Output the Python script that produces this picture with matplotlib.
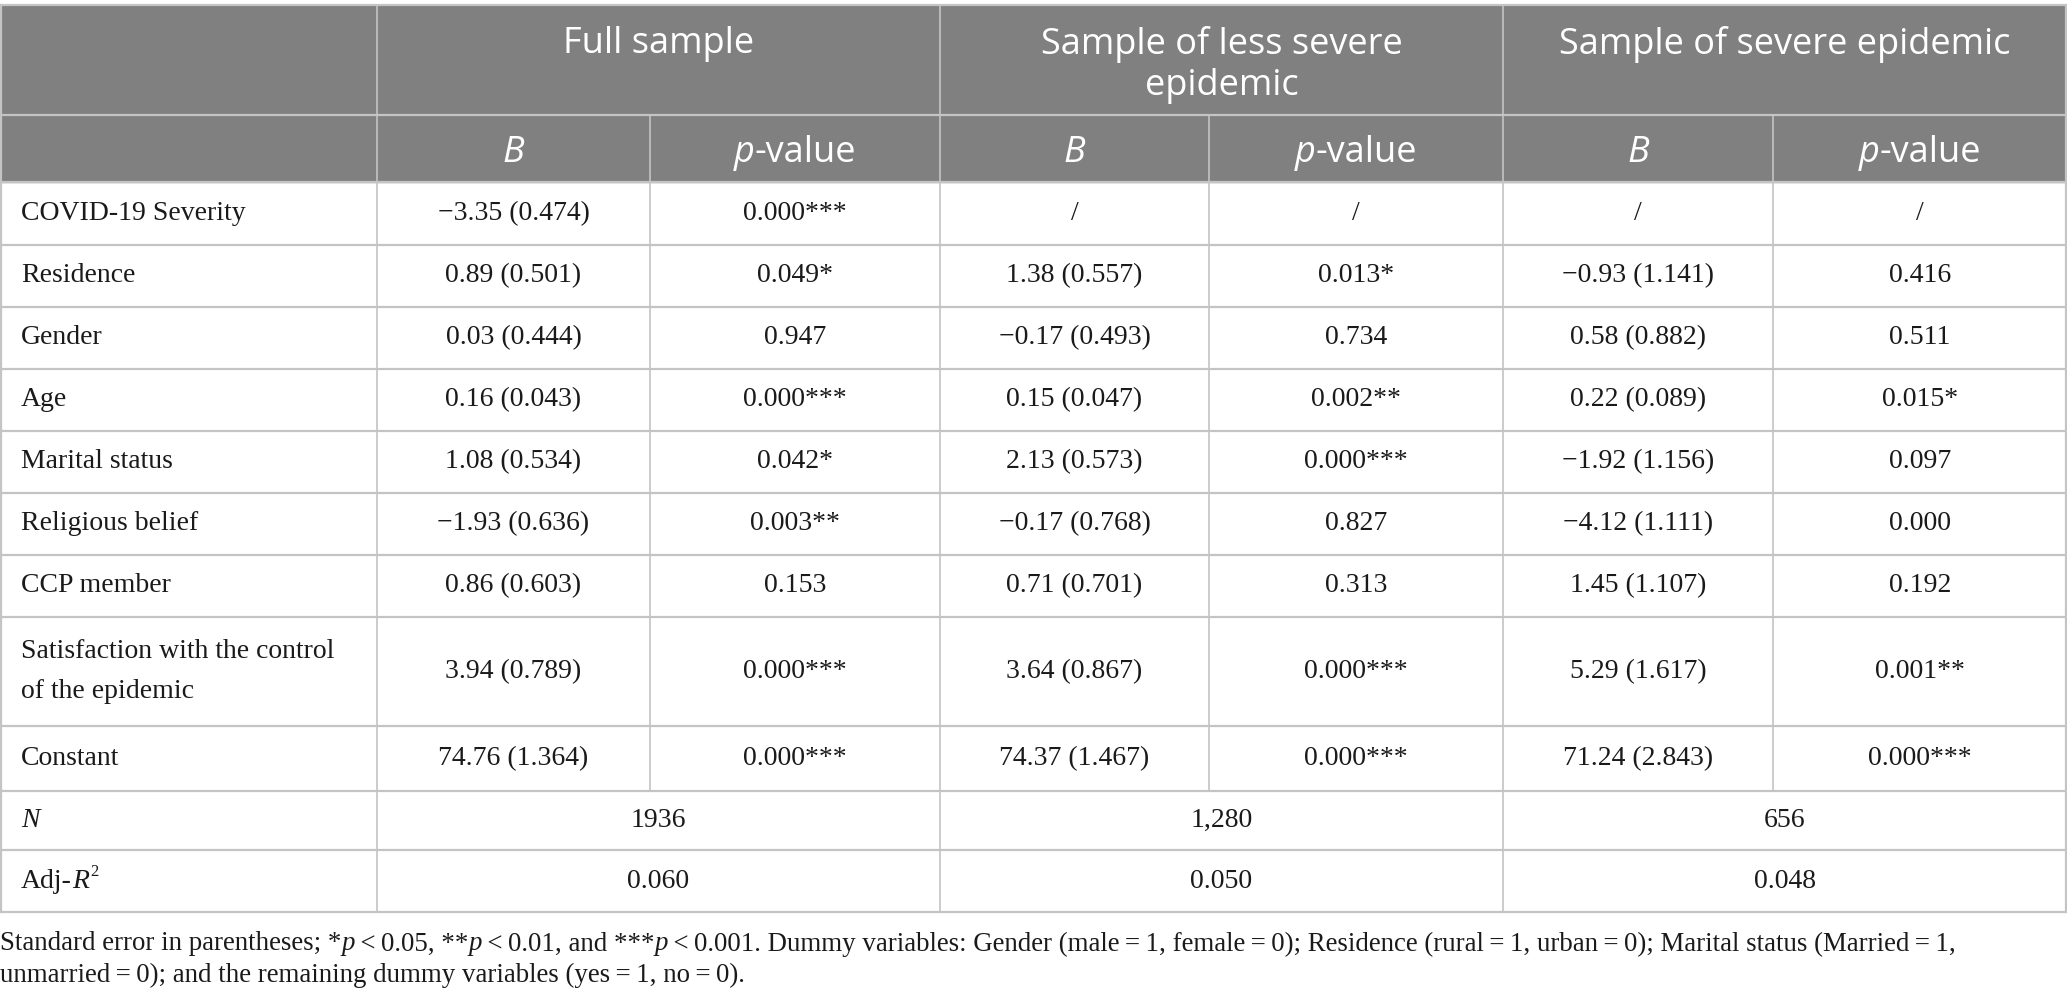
import matplotlib.pyplot as plt
from matplotlib.patches import Rectangle

# table content
groups = [["Full sample"], ["Sample of less severe", "epidemic"], ["Sample of severe epidemic"]]
row_labels = ["COVID-19 Severity", "Residence", "Gender", "Age", "Marital status",
              "Religious belief", "CCP member",
              "Satisfaction with the control\nof the epidemic", "Constant"]
full_b = ["\u22123.35 (0.474)", "0.89 (0.501)", "0.03 (0.444)", "0.16 (0.043)", "1.08 (0.534)",
          "\u22121.93 (0.636)", "0.86 (0.603)", "3.94 (0.789)", "74.76 (1.364)"]
full_p = ["0.000***", "0.049*", "0.947", "0.000***", "0.042*", "0.003**", "0.153", "0.000***", "0.000***"]
less_b = ["/", "1.38 (0.557)", "\u22120.17 (0.493)", "0.15 (0.047)", "2.13 (0.573)",
          "\u22120.17 (0.768)", "0.71 (0.701)", "3.64 (0.867)", "74.37 (1.467)"]
less_p = ["/", "0.013*", "0.734", "0.002**", "0.000***", "0.827", "0.313", "0.000***", "0.000***"]
sev_b = ["/", "\u22120.93 (1.141)", "0.58 (0.882)", "0.22 (0.089)", "\u22121.92 (1.156)",
         "\u22124.12 (1.111)", "1.45 (1.107)", "5.29 (1.617)", "71.24 (2.843)"]
sev_p = ["/", "0.416", "0.511", "0.015*", "0.097", "0.000", "0.192", "0.001**", "0.000***"]
n_values = ["1936", "1,280", "656"]
adj_r2 = ["0.060", "0.050", "0.048"]
# footnote as runs of (text, italic)
foot_1 = [("Standard error in parentheses; *", False), ("p", True), ("\u2009<\u20090.05, **", False),
          ("p", True), ("\u2009<\u20090.01, and ***", False), ("p", True),
          ("\u2009<\u20090.001. Dummy variables: Gender (male\u2009=\u20091, female\u2009=\u20090); "
           "Residence (rural\u2009=\u20091, urban\u2009=\u20090); Marital status (Married\u2009=\u20091,", False)]
foot_2 = [("unmarried\u2009=\u20090); and the remaining dummy variables (yes\u2009=\u20091, no\u2009=\u20090).", False)]

# layout in pixels
W, H = 2067, 1002
col_x = [0, 377, 650, 940, 1209, 1503, 1773, 2067]
row_y = [5, 115, 182, 245, 307, 369, 431, 493, 555, 617, 726, 791, 850, 912]
header_gray = "#7f807f"
line_col = "#c4c4c4"
text_col = "#1a1a1a"
serif = "Liberation Serif"
sans = "Open Sans"
body_fs = 20
head_fs = 26

fig = plt.figure(figsize=(W / 100, H / 100), dpi=100)
ax = fig.add_axes([0, 0, 1, 1])
ax.set_xlim(0, W)
ax.set_ylim(H, 0)
ax.axis("off")
fig.canvas.draw()
renderer = fig.canvas.get_renderer()


def draw_runs(x, y, runs, ha="left", **kw):
    # draw pieces of text one after another, some italic
    pieces = []
    total = 0
    for txt, it in runs:
        t = ax.text(0, y, txt, ha="left", va="center", style="italic" if it else "normal", **kw)
        bb = t.get_window_extent(renderer=renderer)
        pieces.append((t, bb.width))
        total += bb.width
    start = x - total / 2 if ha == "center" else x
    cur = start
    for t, w in pieces:
        t.set_x(cur)
        cur += w
    return total


# header background
ax.add_patch(Rectangle((0, row_y[0]), W, row_y[2] - row_y[0], color=header_gray, zorder=0))

# header texts
for g, lines in enumerate(groups):
    x0, x1 = col_x[1 + 2 * g], col_x[3 + 2 * g]
    for k, line in enumerate(lines):
        ax.text((x0 + x1) / 2, 44 + 42 * k, line, ha="center", va="center",
                color="white", fontsize=head_fs, family=sans)
    for k in range(2):
        xa, xb = col_x[1 + 2 * g + k], col_x[2 + 2 * g + k]
        runs = [("B", True)] if k == 0 else [("p", True), ("-value", False)]
        draw_runs((xa + xb) / 2, 153, runs, ha="center", color="white", fontsize=head_fs, family=sans)

# body rows
cols = [full_b, full_p, less_b, less_p, sev_b, sev_p]
for i, lab in enumerate(row_labels):
    yc = (row_y[2 + i] + row_y[3 + i]) / 2
    ax.text(21, yc, lab, ha="left", va="center", fontsize=body_fs, family=serif,
            linespacing=1.8, color=text_col)
    for j, col in enumerate(cols):
        ax.text((col_x[1 + j] + col_x[2 + j]) / 2, yc, col[i], ha="center", va="center",
                fontsize=body_fs, family=serif, color=text_col)

# N and Adj-R2 rows
yc = (row_y[11] + row_y[12]) / 2
draw_runs(21, yc, [("N", True)], fontsize=body_fs, family=serif, color=text_col)
for g, v in enumerate(n_values):
    ax.text((col_x[1 + 2 * g] + col_x[3 + 2 * g]) / 2, yc, v, ha="center", va="center",
            fontsize=body_fs, family=serif, color=text_col)
yc = (row_y[12] + row_y[13]) / 2
adj_w = draw_runs(21, yc, [("Adj-", False), ("R", True)], fontsize=body_fs, family=serif, color=text_col)
ax.text(21 + adj_w + 1, yc - 9, "2", ha="left", va="center", fontsize=12, family=serif, color=text_col)
for g, v in enumerate(adj_r2):
    ax.text((col_x[1 + 2 * g] + col_x[3 + 2 * g]) / 2, yc, v, ha="center", va="center",
            fontsize=body_fs, family=serif, color=text_col)

# grid lines
for y in row_y:
    ax.plot([0, W], [y, y], color=line_col, lw=1.6, zorder=2)
ax.plot([0.5, 0.5], [row_y[0], row_y[-1]], color=line_col, lw=1.6)
ax.plot([W - 1, W - 1], [row_y[0], row_y[-1]], color=line_col, lw=1.6)
for j, x in enumerate(col_x[1:-1]):
    if j % 2 == 0:
        ax.plot([x, x], [row_y[0], row_y[-1]], color=line_col, lw=1.2)
    else:
        ax.plot([x, x], [row_y[1], row_y[11]], color=line_col, lw=1.2)

# footnote
draw_runs(0, 944, foot_1, fontsize=19.4, family=[serif, "DejaVu Serif"], color=text_col)
draw_runs(0, 975, foot_2, fontsize=19.4, family=[serif, "DejaVu Serif"], color=text_col)

fig.savefig("out.png", dpi=100)
